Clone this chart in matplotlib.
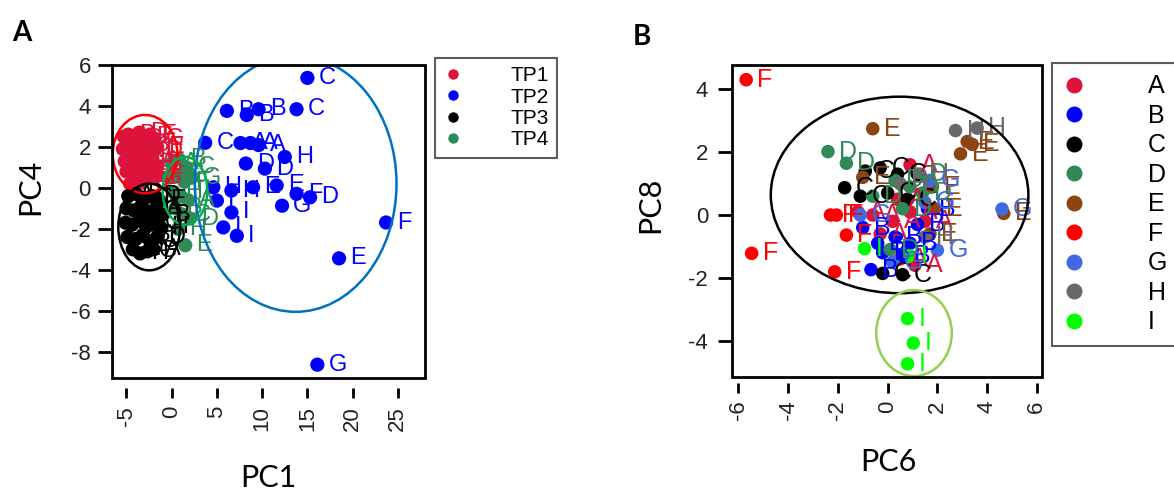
import matplotlib
matplotlib.use('Agg')
import matplotlib.pyplot as plt
from matplotlib.patches import Ellipse, Rectangle
from matplotlib.lines import Line2D

plt.rcParams['font.family'] = ['Liberation Sans', 'DejaVu Sans']
plt.rcParams['axes.unicode_minus'] = False

# ---------------- panel A : PC1 vs PC4, coloured by time point
tp_names = ['TP1', 'TP2', 'TP3', 'TP4']
tp_colors = ['#DC143C', '#0000FF', '#000000', '#2E8B57']

tp1_x = [-5.3, -4.8, -4.2, -3.6, -3.0, -2.4, -1.9, -5.4, -4.7, -4.0, -3.3, -2.7, -2.0, -1.6,
         -5.2, -4.5, -3.8, -3.1, -2.4, -1.8, -5.0, -4.3, -3.5, -2.8, -2.1, -1.5, -4.6, -3.2]
tp1_y = [2.5, 2.6, 2.4, 2.7, 2.5, 2.6, 2.4, 1.9, 2.0, 1.8, 2.1, 1.9, 1.8, 2.0,
         1.3, 1.4, 1.2, 1.4, 1.3, 1.1, 0.8, 0.7, 0.6, 0.8, 0.5, 0.6, 0.2, 0.3]
tp1_lab = list('ABCDEFGHIABCDEFGHIABCDEFGHIE')[:28]

tp2_x = [15.0, 6.1, 8.3, 9.6, 13.8, 3.7, 7.6, 8.7, 9.6, 8.2, 12.5, 10.3, 11.6,
         4.6, 6.6, 9.0, 5.0, 13.8, 15.3, 12.2, 6.6, 5.7, 7.2, 23.7, 18.5, 16.1]
tp2_y = [5.37, 3.76, 3.56, 3.84, 3.84, 2.2, 2.19, 2.19, 2.09, 1.19, 1.51, 0.94, 0.12,
         0.03, -0.13, 0.03, -0.62, -0.29, -0.46, -0.87, -1.2, -1.93, -2.34, -1.69, -3.44, -8.63]
tp2_lab = ['C', 'B', 'B', 'B', 'C', 'C', 'A', 'A', 'A', 'D', 'H', 'D', 'E',
           'H', 'H', 'E', 'I', 'F', 'D', 'G', 'I', 'I', 'I', 'F', 'E', 'G']

tp3_x = [-4.8, -3.9, -3.0, -2.2, -1.4, -5.0, -4.2, -3.4, -2.6, -1.8, -1.0,
         -5.1, -4.4, -3.6, -2.8, -2.0, -1.3, -4.9, -4.0, -3.2, -2.4, -1.6,
         -4.3, -3.5, -2.7, -2.0]
tp3_y = [-0.4, -0.3, -0.5, -0.4, -0.6, -1.0, -1.1, -0.9, -1.2, -1.0, -1.3,
         -1.7, -1.8, -1.6, -1.9, -1.7, -1.9, -2.4, -2.5, -2.3, -2.6, -2.4,
         -3.0, -3.2, -3.1, -3.0]
tp3_lab = list('ABCDEFGHIABCDEFGHIABCDEHGA')

tp4_x = [0.0, 0.8, 1.6, -0.3, 0.6, 1.4, 2.2, 0.2, 1.0, 1.8, 0.4, 1.2, 2.0, 0.7, 1.5]
tp4_y = [1.2, 1.4, 1.0, 0.5, 0.6, 0.3, 0.5, -0.2, -0.4, -0.6, -1.0, -1.3, -1.5, -2.0, -2.8]
tp4_lab = list('ABCDEFGHIABCDHE')

# ellipses A : centre x, centre y, width, height, colour
ellA = [(13.7, 0.2, 22.3, 12.5, '#0070C0'),
        (-2.95, 1.65, 7.15, 3.82, '#FF0000'),
        (1.47, -0.14, 4.94, 3.31, '#00B050'),
        (-2.49, -1.91, 6.83, 4.23, '#000000')]

# ---------------- panel B : PC6 vs PC8, coloured by group
grp_names = ['A', 'B', 'C', 'D', 'E', 'F', 'G', 'H', 'I']
grp_colors = ['#DC143C', '#0000FF', '#000000', '#2E8B57', '#8B4513',
              '#FF0000', '#4169E1', '#696969', '#00FF00']

gA_x = [-1.2, -0.6, 0.2, 0.9, 1.5, 0.4, 0.9, 0.5, 1.1, -0.3]
gA_y = [0.1, 0.0, -0.2, 0.1, -0.2, 0.5, 1.6, -1.4, -1.6, -0.6]
gB_x = [-1.0, -0.4, 0.3, 0.9, 1.6, 0.6, -0.67, 1.2, -0.2]
gB_y = [-0.4, -0.9, -0.7, -0.9, 0.2, -1.3, -1.74, -0.3, -1.2]
gC_x = [-1.73, -0.2, -0.9, -0.3, 0.4, -1.1, 0.0, 0.8, 0.6]
gC_y = [0.87, -1.86, 1.4, 1.5, 1.3, 0.6, 0.7, 0.5, -1.9]
gD_x = [-2.4, -1.66, 0.3, 0.9, 1.4, -0.6, 1.2, 0.6, 0.1]
gD_y = [2.02, 1.65, 1.1, 0.9, 0.7, 0.6, 1.3, 0.2, -1.1]
gE_x = [-0.6, 3.2, 2.93, 3.4, 4.67, 1.8, 1.9, 1.7, -1.0]
gE_y = [2.75, 2.34, 1.95, 2.25, 0.05, 0.9, 0.2, -0.6, 1.2]
gF_x = [-5.69, -5.47, -2.13, -2.3, -2.06, -1.66]
gF_y = [4.31, -1.22, -1.81, 0.0, 0.0, -0.64]
gG_x = [2.0, 4.6, 1.7, 1.5, 0.2, -1.1]
gG_y = [-1.12, 0.19, 1.1, 0.4, -1.5, 0.0]
gH_x = [2.73, 3.6, 1.3, 1.5, 0.5]
gH_y = [2.69, 2.77, 1.3, -0.7, 1.0]
gI_x = [0.8, 1.03, 0.8, -0.93, 0.9]
gI_y = [-3.3, -4.08, -4.74, -1.07, -1.3]

ellB = [(0.48, 0.64, 10.36, 6.26, '#000000'),
        (1.06, -3.76, 3.04, 2.74, '#92D050')]


def draw_group(ax, xs, ys, labs, color, s, fs):
    ax.scatter(xs, ys, s=s, color=color, edgecolors='none', zorder=3)
    for x, y, t in zip(xs, ys, labs):
        ax.annotate(t, (x, y), xytext=(8, 0), textcoords='offset points',
                    ha='left', va='center', color=color, fontsize=fs, zorder=4)


def style_axes(ax, xoff, fs):
    for sp in ax.spines.values():
        sp.set_visible(False)
    ax.spines['bottom'].set_visible(True)
    ax.spines['bottom'].set_position(('outward', xoff))
    ax.spines['bottom'].set_color('none')
    ax.add_patch(Rectangle((0, 0), 1, 1, transform=ax.transAxes, fill=False,
                           lw=2.0, ec='black', zorder=6, clip_on=False))
    ax.tick_params(direction='out', width=2, labelsize=fs, labelcolor='#222222')
    ax.tick_params(axis='y', length=10, pad=5)
    ax.tick_params(axis='x', length=7, labelrotation=90, pad=6)


fig = plt.figure(figsize=(11.74, 4.93), dpi=100)

# ---- A
axA = fig.add_axes([0.0951, 0.2333, 0.2669, 0.6349])
draw_group(axA, tp1_x, tp1_y, tp1_lab, tp_colors[0], 105, 17)
draw_group(axA, tp3_x, tp3_y, tp3_lab, tp_colors[2], 105, 17)
draw_group(axA, tp4_x, tp4_y, tp4_lab, tp_colors[3], 105, 17)
draw_group(axA, tp2_x, tp2_y, tp2_lab, tp_colors[1], 105, 17)
for cx, cy, w, h, c in ellA:
    axA.add_patch(Ellipse((cx, cy), w, h, fill=False, ec=c, lw=1.8, zorder=5))
axA.set_xlim(-6.64, 28.0)
axA.set_ylim(-9.28, 6.0)
axA.set_xticks([-5, 0, 5, 10, 15, 20, 25])
axA.set_yticks([6, 4, 2, 0, -2, -4, -6, -8])
style_axes(axA, 7, 16)
axA.set_xlabel('PC1', family='Lato', fontsize=22)
axA.xaxis.set_label_coords(0.499, -0.32)
axA.xaxis.label.set_va('center')
axA.set_ylabel('PC4', family='Lato', fontsize=22)
axA.yaxis.set_label_coords(-0.261, 0.61)
axA.yaxis.label.set_va('center')

hA = [Line2D([], [], ls='none', marker='o', ms=7.5, mfc=c, mec='none') for c in tp_colors]
legA = axA.legend(hA, tp_names, loc='upper left', bbox_to_anchor=(1.032, 1.022),
                  borderaxespad=0, fontsize=15, frameon=True, fancybox=False,
                  handlelength=0.9, handletextpad=2.3, borderpad=0.4, labelspacing=0.11)
legA.get_frame().set_edgecolor('#333333')
legA.get_frame().set_linewidth(1.5)

# ---- B
axB = fig.add_axes([0.6233, 0.2353, 0.2643, 0.6329])
groups = [(gA_x, gA_y), (gB_x, gB_y), (gC_x, gC_y), (gD_x, gD_y), (gE_x, gE_y),
          (gF_x, gF_y), (gG_x, gG_y), (gH_x, gH_y), (gI_x, gI_y)]
for (xs, ys), name, c in zip(groups, grp_names, grp_colors):
    draw_group(axB, xs, ys, [name] * len(xs), c, 95, 18)
for cx, cy, w, h, c in ellB:
    axB.add_patch(Ellipse((cx, cy), w, h, fill=False, ec=c, lw=1.8, zorder=5))
axB.set_xlim(-6.27, 6.21)
axB.set_ylim(-5.16, 4.78)
axB.set_xticks([-6, -4, -2, 0, 2, 4, 6])
axB.set_yticks([4, 2, 0, -2, -4])
style_axes(axB, 4, 16)
axB.tick_params(axis='y', pad=7)
axB.set_xlabel('PC6', family='Lato', fontsize=22)
axB.xaxis.set_label_coords(0.504, -0.272)
axB.xaxis.label.set_va('center')
axB.set_ylabel('PC8', family='Lato', fontsize=22)
axB.yaxis.set_label_coords(-0.263, 0.551)
axB.yaxis.label.set_va('center')

hB = [Line2D([], [], ls='none', marker='o', ms=11.5, mfc=c, mec='none') for c in grp_colors]
legB = axB.legend(hB, grp_names, loc='upper left', bbox_to_anchor=(1.032, 1.006),
                  borderaxespad=0, fontsize=18, frameon=True, fancybox=False,
                  handlelength=0.9, handletextpad=2.5, borderpad=0.45, labelspacing=0.22)
legB.get_frame().set_edgecolor('#333333')
legB.get_frame().set_linewidth(1.5)

fig.text(22 / 1174, 1 - 33 / 493, 'A', family='Lato', weight='bold', fontsize=20,
         ha='center', va='center')
fig.text(642 / 1174, 1 - 37 / 493, 'B', family='Lato', weight='bold', fontsize=20,
         ha='center', va='center')

fig.savefig('out.png', dpi=100)
